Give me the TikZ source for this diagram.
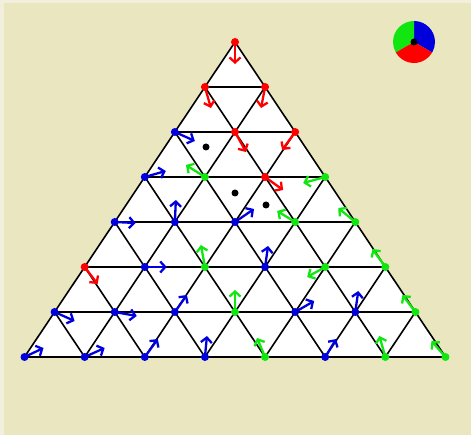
\documentclass[tikz,border=0pt]{standalone}
\usetikzlibrary{arrows.meta}
\definecolor{bg}{HTML}{EAE6C0}
\definecolor{bgedge}{HTML}{F2F0DC}
\definecolor{cred}{HTML}{FF0000}
\definecolor{cblue}{HTML}{0000DD}
\definecolor{cgreen}{HTML}{11E611}
\tikzset{
  gridline/.style={line width=1.6pt, black},
  vecarrow/.style={line width=2.3pt, -{Straight Barb[length=5pt,width=11pt,line width=2.3pt]}},
  vdot/.style={circle, inner sep=0pt, minimum size=8pt},
  blackdot/.style={circle, fill=black, inner sep=0pt, minimum size=7pt}
}
\begin{document}
\begin{tikzpicture}[x=1pt,y=-1pt]
\useasboundingbox (0,0) rectangle (471,435);
\fill[bgedge] (0,0) rectangle (471,435);
\fill[bg] (4,3) rectangle (471,435);
% vertices
\foreach \r in {0,...,7}{
  \foreach \k in {0,...,\r}{
    \coordinate (v-\r-\k) at ({235-30.07*\r+60.14*\k},{42+45*\r});
  }
}
\fill[white] (v-0-0) -- (v-7-0) -- (v-7-7) -- cycle;
% grid
\foreach \r in {1,...,7}{
  \draw[gridline] (v-\r-0) -- (v-\r-\r);
}
\foreach \k in {0,...,7}{
  \draw[gridline] (v-7-\k) -- (v-\k-\k);
  \pgfmathtruncatemacro{\rr}{7-\k}
  \draw[gridline] (v-7-\k) -- (v-\rr-0);
}
% arrows and dots
\foreach \r/\k/\dx/\dy/\c in {
 0/0/0/22/cred, 1/0/6/21/cred, 1/1/-4/21/cred,
 2/0/20/9/cblue, 2/1/11/20/cred, 2/2/-13/18/cred,
 3/0/21/-6/cblue, 3/1/-19/-12/cgreen, 3/2/18/13/cred, 3/3/-22/6/cgreen,
 4/0/21/1/cblue, 4/1/1/-22/cblue, 4/2/19/-13/cblue, 4/3/-18/-11/cgreen, 4/4/-17/-14/cgreen,
 5/0/13/17/cred, 5/1/22/0/cblue, 5/2/-4/-22/cgreen, 5/3/3/-21/cblue, 5/4/-18/10/cgreen, 5/5/-13/-18/cgreen,
 6/0/20/9/cblue, 6/1/22/4/cblue, 6/2/12/-17/cblue, 6/3/0/-22/cgreen, 6/4/19/-11/cblue, 6/5/3/-21/cblue, 6/6/-13/-17/cgreen,
 7/0/19/-9/cblue, 7/1/20/-9/cblue, 7/2/13/-18/cblue, 7/3/2/-21/cblue, 7/4/-8/-19/cgreen, 7/5/11/-18/cblue, 7/6/-6/-21/cgreen, 7/7/-14/-16/cgreen}{
  \draw[vecarrow, \c] (v-\r-\k) -- ++(\dx,\dy);
  \node[vdot, fill=\c] (d-\r-\k) at (v-\r-\k) {};
}
% black dots
\node[blackdot] (b1) at (206,147) {};
\node[blackdot] (b2) at (235,193) {};
\node[blackdot] (b3) at (266,205) {};
% legend (y axis points down, so angles are mirrored)
\coordinate (lc) at (414,42);
\fill[cblue] (lc) -- ++(-90:21) arc[start angle=-90, end angle=30, radius=21] -- cycle;
\fill[cgreen] (lc) -- ++(-90:21) arc[start angle=-90, end angle=-210, radius=21] -- cycle;
\fill[cred] (lc) -- ++(150:21) arc[start angle=150, end angle=30, radius=21] -- cycle;
\node[blackdot] (lcdot) at (lc) {};
\end{tikzpicture}
\end{document}
